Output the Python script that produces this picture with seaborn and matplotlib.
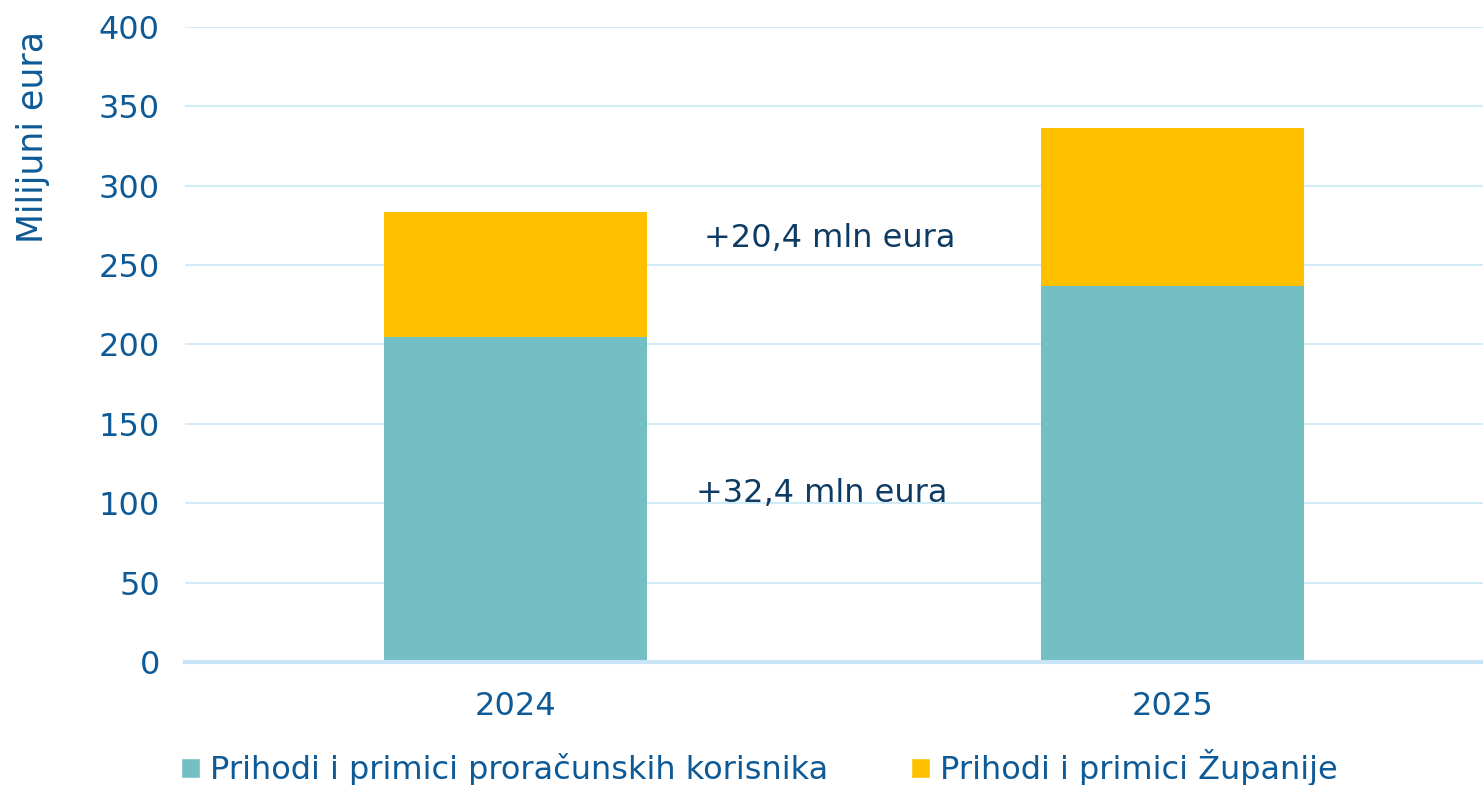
import seaborn as sns
import pandas as pd
import matplotlib.pyplot as plt
from matplotlib.patches import Patch

# Data (millions of euro)
years = ['2024', '2025']
korisnici = [204.5, 236.9]   # Prihodi i primici proračunskih korisnika
zupanija = [79.0, 99.4]      # Prihodi i primici Županije
labels = ['Prihodi i primici proračunskih korisnika', 'Prihodi i primici Županije']
notes = ['+20,4 mln eura', '+32,4 mln eura']

df = pd.DataFrame({'godina': years, 'korisnici': korisnici, 'zupanija': zupanija})
df['ukupno'] = df['korisnici'] + df['zupanija']

teal = '#73BFC4'
yellow = '#FFC000'
txt = '#0E5A96'
dark = '#0D3B63'

sns.set_style('white')
plt.rcParams['font.family'] = ['DejaVu Sans']

fig = plt.figure(figsize=(14.83, 7.85), dpi=100)
ax = fig.add_axes([0.1247, 0.1567, 0.8753, 0.8089])

# stacked bars: total in yellow, bottom part drawn over it in teal
sns.barplot(data=df, x='godina', y='ukupno', color=yellow, width=0.4, saturation=1,
            linewidth=0, ax=ax)
sns.barplot(data=df, x='godina', y='korisnici', color=teal, width=0.4, saturation=1,
            linewidth=0, ax=ax)

ax.set_ylim(0, 400)
ax.set_xlim(-0.503, 1.473)
ax.set_yticks(range(0, 401, 50))
ax.yaxis.grid(True, color='#D2EBF9', linewidth=1.5)
ax.set_axisbelow(True)
for s in ['top', 'right', 'left']:
    ax.spines[s].set_visible(False)
ax.spines['bottom'].set_color('#C8E5F7')
ax.spines['bottom'].set_linewidth(3)

ax.tick_params(axis='both', length=0, labelsize=23, labelcolor=txt)
ax.tick_params(axis='y', pad=18)
ax.tick_params(axis='x', pad=21)
ax.set_xlabel('')
ax.set_ylabel('Milijuni eura', fontsize=25, color=txt)
ax.yaxis.set_label_coords(-0.104, 0.827)

# difference notes between the bars
ax.text(0.479, 267, notes[0], fontsize=23, color=dark, ha='center', va='center')
ax.text(0.467, 106, notes[1], fontsize=23, color=dark, ha='center', va='center')

handles = [Patch(facecolor=teal, label=labels[0]), Patch(facecolor=yellow, label=labels[1])]
fig.legend(handles=handles, loc='center', bbox_to_anchor=(0.512, 0.022), ncol=2,
           frameon=False, fontsize=23, labelcolor=txt, handlelength=0.6,
           handleheight=0.6, handletextpad=0.3, columnspacing=2.6)

plt.savefig('out.png', dpi=100)
